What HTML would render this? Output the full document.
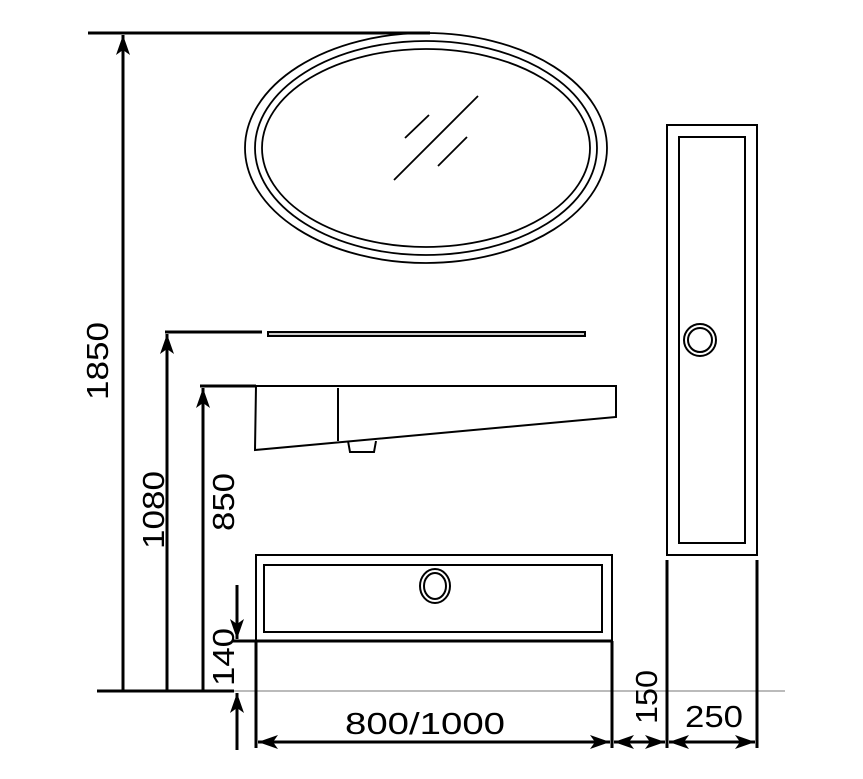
<!DOCTYPE html>
<html><head><style>body{margin:0;background:#fff}svg{display:block}text{font-family:"Liberation Sans",sans-serif;font-size:31px;fill:#000}</style></head><body>
<svg width="863" height="779" viewBox="0 0 863 779" xmlns="http://www.w3.org/2000/svg">
<defs>
<marker id="b" viewBox="0 0 20 14" refX="20" refY="7" markerWidth="20" markerHeight="14" orient="auto-start-reverse" markerUnits="userSpaceOnUse"><path d="M0,0 L20,7 L0,14 L5,7z" fill="#000"/></marker></defs>
<g fill="none" stroke="#000" stroke-width="1.8">
<ellipse cx="426" cy="148" rx="181" ry="115"/>
<ellipse cx="426" cy="148" rx="171" ry="107"/>
<ellipse cx="426" cy="148" rx="164" ry="99"/>
<line x1="394" y1="180" x2="478" y2="96"/><line x1="405" y1="138" x2="429" y2="115"/><line x1="438" y1="166" x2="467" y2="137"/>
</g>
<line x1="190" y1="691" x2="785" y2="691" stroke="#bbb" stroke-width="2"/>
<g stroke="#000" stroke-width="3" fill="none">
<line x1="88" y1="33" x2="430" y2="33"/>
<line x1="165" y1="332" x2="262" y2="332"/>
<line x1="200" y1="386" x2="256" y2="386"/>
<line x1="97" y1="691" x2="234" y2="691"/>
<line x1="232" y1="641" x2="256" y2="641"/>
<line x1="123" y1="691" x2="123" y2="35" marker-end="url(#b)"/>
<line x1="167" y1="691" x2="167" y2="334" marker-end="url(#b)"/>
<line x1="203" y1="691" x2="203" y2="388" marker-end="url(#b)"/>
<line x1="237" y1="585" x2="237" y2="639" marker-end="url(#b)"/>
<line x1="237" y1="750" x2="237" y2="693" marker-end="url(#b)"/>
<line x1="258" y1="742" x2="610" y2="742" marker-start="url(#b)" marker-end="url(#b)"/>
<line x1="614" y1="742" x2="665" y2="742" marker-start="url(#b)" marker-end="url(#b)"/>
<line x1="669" y1="742" x2="755" y2="742" marker-start="url(#b)" marker-end="url(#b)"/>
<line x1="256" y1="641" x2="612" y2="641"/>
<line x1="256" y1="641" x2="256" y2="748"/><line x1="612" y1="641" x2="612" y2="748"/>
<line x1="667" y1="560" x2="667" y2="748"/><line x1="757" y1="560" x2="757" y2="748"/>
</g>
<g stroke="#000" stroke-width="2" fill="none">
<rect x="256" y="555" width="356" height="86"/>
<rect x="264" y="565" width="338" height="67"/>
<ellipse cx="435" cy="586" rx="15" ry="17"/><ellipse cx="435" cy="586" rx="11" ry="13"/>
<rect x="667" y="125" width="90" height="430"/>
<rect x="679" y="137" width="66" height="406"/>
<circle cx="700" cy="340" r="16"/><circle cx="700" cy="340" r="12"/>
<rect x="268" y="332" width="317" height="4" fill="#ccc"/>
<path d="M256,386 L616,386 L616,417 L255,450 Z"/>
<line x1="338" y1="388" x2="338" y2="441"/>
<path d="M348,441 L350,452 L374,452 L376,441"/>
</g>
<text transform="translate(108,361) rotate(-90)" text-anchor="middle" textLength="78" lengthAdjust="spacingAndGlyphs">1850</text>
<text transform="translate(164,510) rotate(-90)" text-anchor="middle" textLength="78" lengthAdjust="spacingAndGlyphs">1080</text>
<text transform="translate(234,502) rotate(-90)" text-anchor="middle" textLength="58" lengthAdjust="spacingAndGlyphs">850</text>
<text transform="translate(234,657) rotate(-90)" text-anchor="middle" textLength="58" lengthAdjust="spacingAndGlyphs">140</text>
<text transform="translate(657,697) rotate(-90)" text-anchor="middle" textLength="54" lengthAdjust="spacingAndGlyphs">150</text>
<text x="425" y="734" text-anchor="middle" textLength="160" lengthAdjust="spacingAndGlyphs">800/1000</text>
<text x="714" y="727" text-anchor="middle" textLength="58" lengthAdjust="spacingAndGlyphs">250</text>
</svg>
</body></html>
